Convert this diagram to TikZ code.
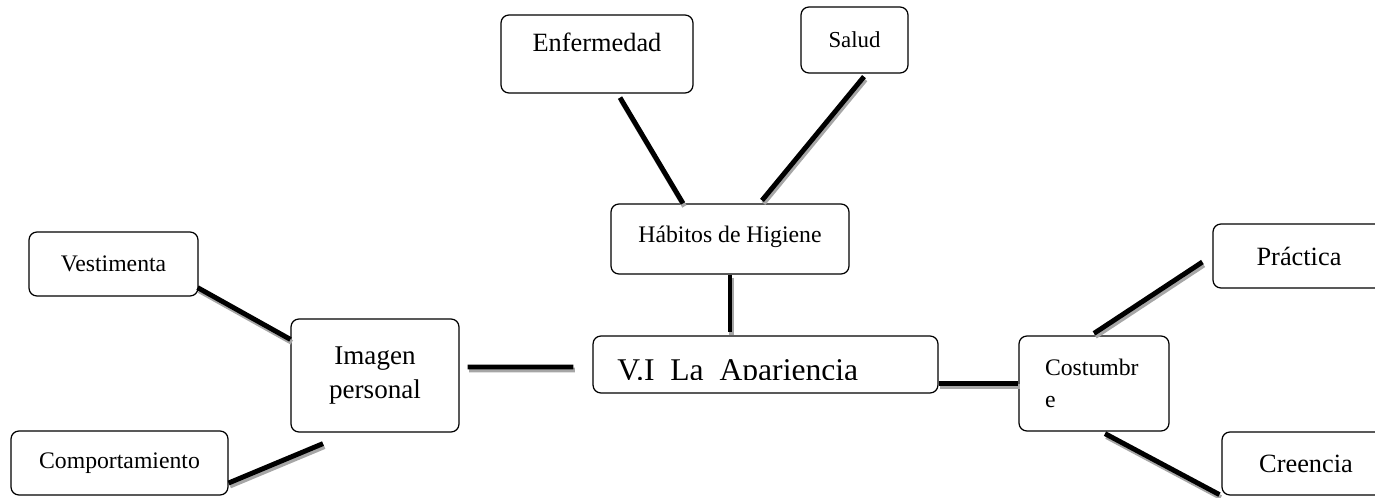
\documentclass[tikz,border=0pt]{standalone}
\usepackage{fontspec}
\setmainfont{Liberation Serif}
\begin{document}
\begin{tikzpicture}[x=0.02cm, y=-0.02cm]
	\tikzstyle{Box} = [draw, rounded corners=4.5pt, line width=0.7pt, inner sep=0pt]
	\tikzstyle{Link} = [line width=2.8pt, preaction={draw, gray!70, line width=2.8pt, transform canvas={xshift=0.8pt, yshift=-1.7pt}}]
	\useasboundingbox (0,0) rectangle (1375,497);
	\node (enf) at (597,54) [Box, minimum width=3.84cm, minimum height=1.56cm, font=\fontsize{15}{18}\selectfont, text height=11pt, text depth=13.4pt] {Enfermedad};
	\node (sal) at (854.5,40) [Box, minimum width=2.14cm, minimum height=1.32cm, font=\fontsize{13}{16}\selectfont] {Salud};
	\node (hab) at (730,239) [Box, minimum width=4.76cm, minimum height=1.40cm, font=\fontsize{13.5}{16}\selectfont, text height=9.5pt, text depth=5.5pt] {Hábitos de Higiene};
	\node (ves) at (113.5,264) [Box, minimum width=3.38cm, minimum height=1.28cm, font=\fontsize{13.5}{16}\selectfont] {Vestimenta};
	\node (img) at (375,375.5) [Box, minimum width=3.36cm, minimum height=2.26cm, align=center, font=\fontsize{15.4}{19.8}\selectfont] {Imagen\\personal};
	\node (com) at (119.5,463) [Box, minimum width=4.34cm, minimum height=1.28cm, font=\fontsize{13.5}{16}\selectfont] {Comportamiento};
	\node (apa) at (765.5,364.5) [Box, minimum width=6.90cm, minimum height=1.14cm] {};
	\node (cos) at (1094,383.5) [Box, minimum width=3.00cm, minimum height=1.90cm, text width=1.96cm, align=left, font=\fontsize{13.5}{18}\selectfont] {Costumbr\\e};
	\node (pra) at (1299,256) [Box, minimum width=3.44cm, minimum height=1.28cm, font=\fontsize{15}{18}\selectfont] {Práctica};
	\node (cre) at (1306,463.5) [Box, minimum width=3.36cm, minimum height=1.26cm, font=\fontsize{15}{18}\selectfont] {Creencia};
	\begin{scope}
		\clip (593,336) rectangle (938,379);
		\node (apatxt) at (617,380.5) [anchor=base west, inner sep=0pt, font=\fontsize{18}{22}\selectfont] {V.I~~La~~Apariencia};
	\end{scope}
	\draw [Link] ([shift={(23,4)}]enf.south) to ([shift={(-47,0)}]hab.north);
	\draw [Link] ([shift={(9.5,3)}]sal.south) to ([shift={(32,-3)}]hab.north);
	\draw [Link] (hab.south) to ([yshift=2]hab.south |- apa.north);
	\draw [Link] ([shift={(8,-8.5)}]img.east) to ([shift={(-19,2.5)}]apa.west);
	\draw [Link] ([shift={(-1,-9)}]ves.south east) to ([shift={(0,21)}]img.north west);
	\draw [Link] ([shift={(0,20)}]com.east) to ([shift={(-52,11)}]img.south);
	\draw [Link] (cos.west -| apa.east) to (cos.west);
	\draw [Link] ([shift={(0,-2)}]cos.north) to ([shift={(-10,6)}]pra.west);
	\draw [Link] ([shift={(11,2)}]cos.south) to ([shift={(-2,-1)}]cre.south west);
\end{tikzpicture}
\end{document}
